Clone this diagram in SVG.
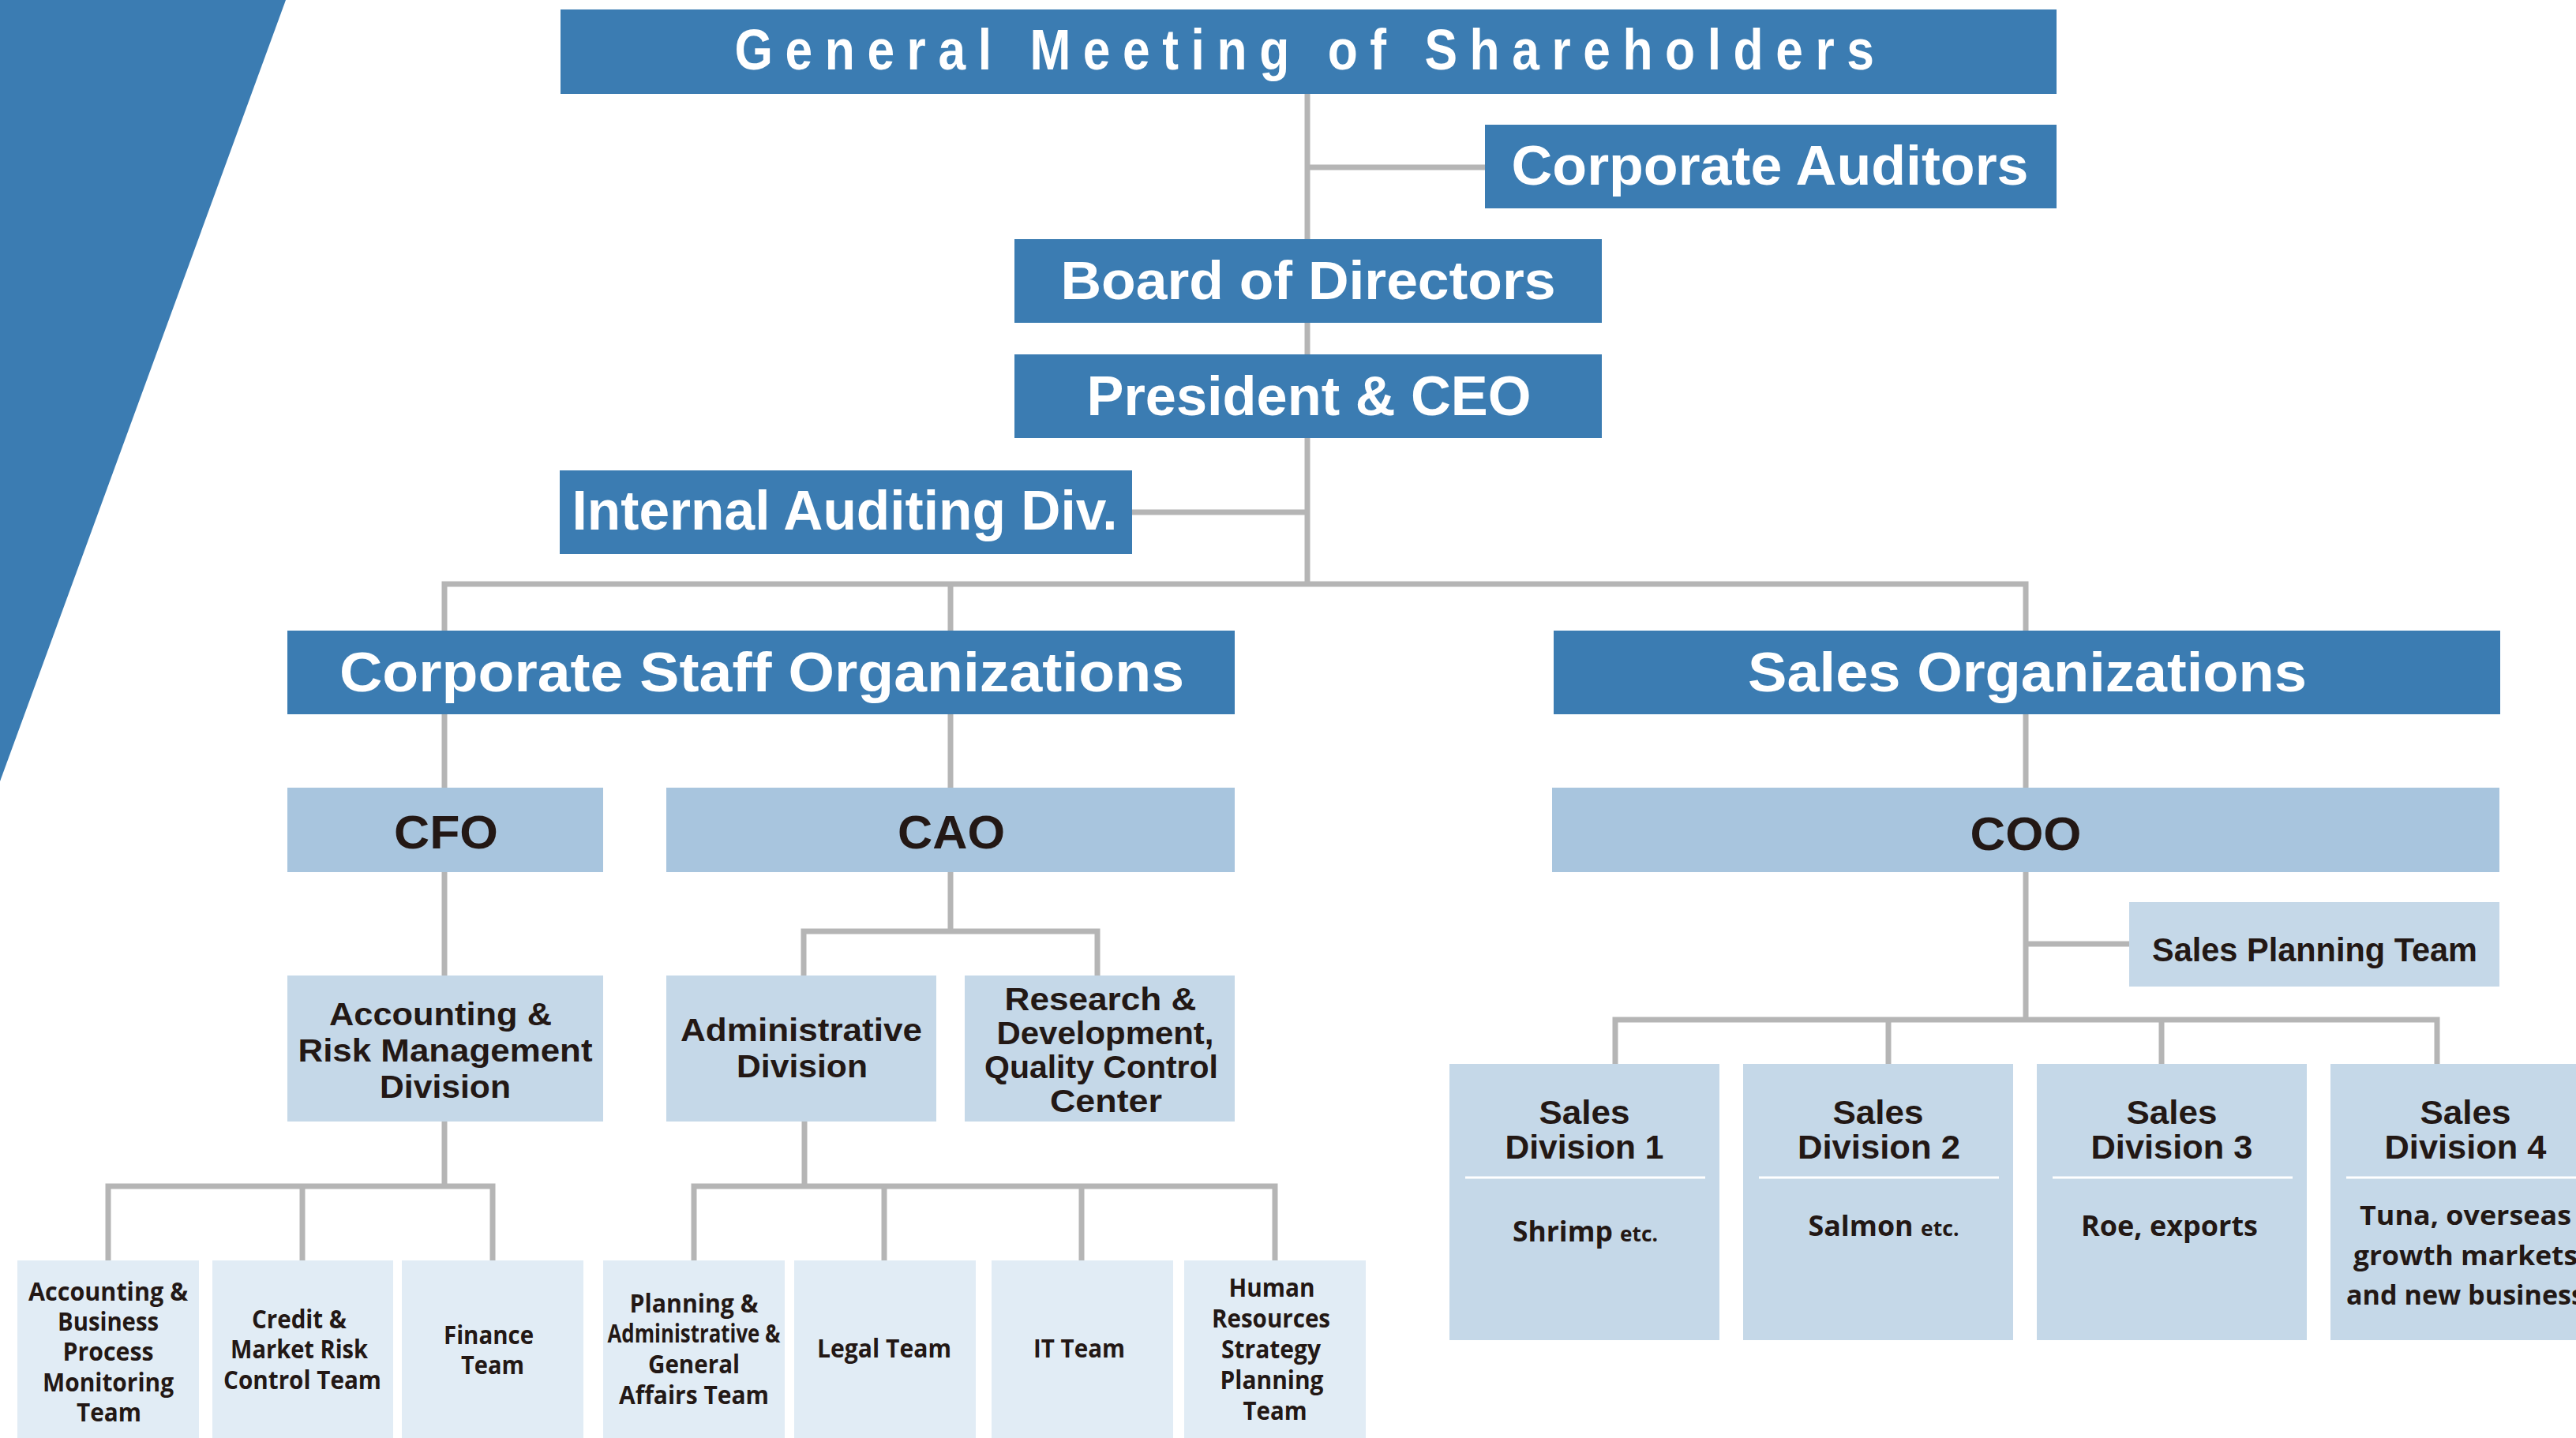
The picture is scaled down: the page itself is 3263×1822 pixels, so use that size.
<svg xmlns="http://www.w3.org/2000/svg" width="3263" height="1822" viewBox="0 0 3263 1822">
<style>
.dk{fill:#3b7cb2}.lb{fill:#a8c5de}.mb{fill:#c5d8e8}.vl{fill:#e1ecf5}
.ln{fill:none;stroke:#b5b5b5;stroke-width:7;stroke-linejoin:miter}
.tw{font-family:"Liberation Sans",Arial,sans-serif;font-weight:700;fill:#ffffff;text-anchor:middle}
.tb{font-family:"Liberation Sans",Arial,sans-serif;font-weight:700;fill:#231815;text-anchor:middle}
.to{font-family:"Open Sans","Liberation Sans",sans-serif;font-weight:700;fill:#231815;text-anchor:middle}
</style>
<rect width="3263" height="1822" fill="#ffffff"/>
<polygon points="0,0 362,0 0,990" class="dk"/>
<g id="connectors">
<path class="ln" d="M1656,119 V740"/>
<path class="ln" d="M1656,212 H1881"/>
<path class="ln" d="M1434,649 H1656"/>
<path class="ln" d="M563,799 V740 H2566 V799"/>
<path class="ln" d="M1204,740 V799"/>
<path class="ln" d="M563,905 V1236"/>
<path class="ln" d="M1204,905 V998"/>
<path class="ln" d="M1204,1105 V1180"/>
<path class="ln" d="M1018,1236 V1180 H1390 V1236"/>
<path class="ln" d="M563,1421 V1503"/>
<path class="ln" d="M137,1597 V1503 H624 V1597"/>
<path class="ln" d="M383,1503 V1597"/>
<path class="ln" d="M1019,1421 V1503"/>
<path class="ln" d="M879,1597 V1503 H1615 V1597"/>
<path class="ln" d="M1120,1503 V1597"/>
<path class="ln" d="M1370,1503 V1597"/>
<path class="ln" d="M2566,905 V998"/>
<path class="ln" d="M2566,1105 V1292"/>
<path class="ln" d="M2566,1196 H2697"/>
<path class="ln" d="M2046,1348 V1292 H3087 V1348"/>
<path class="ln" d="M2392,1292 V1348"/>
<path class="ln" d="M2738,1292 V1348"/>
</g>
<g id="gms"><rect x="710" y="12" width="1895" height="107" class="dk"/>
<text x="1660" y="88" class="tw" font-size="72" letter-spacing="18" textLength="1459" lengthAdjust="spacingAndGlyphs">General Meeting of Shareholders</text></g>
<g id="auditors"><rect x="1881" y="158" width="724" height="106" class="dk"/>
<text x="2242" y="234" class="tw" font-size="71" textLength="655" lengthAdjust="spacingAndGlyphs">Corporate Auditors</text></g>
<g id="board"><rect x="1285" y="303" width="744" height="106" class="dk"/>
<text x="1657" y="379" class="tw" font-size="69" textLength="627" lengthAdjust="spacingAndGlyphs">Board of Directors</text></g>
<g id="president"><rect x="1285" y="449" width="744" height="106" class="dk"/>
<text x="1658" y="526" class="tw" font-size="70" textLength="563" lengthAdjust="spacingAndGlyphs">President &amp; CEO</text></g>
<g id="internal"><rect x="709" y="596" width="725" height="106" class="dk"/>
<text x="1070" y="671" class="tw" font-size="70" textLength="691" lengthAdjust="spacingAndGlyphs">Internal Auditing Div.</text></g>
<g id="corpstaff"><rect x="364" y="799" width="1200" height="106" class="dk"/>
<text x="965" y="876" class="tw" font-size="70" textLength="1070" lengthAdjust="spacingAndGlyphs">Corporate Staff Organizations</text></g>
<g id="salesorg"><rect x="1968" y="799" width="1199" height="106" class="dk"/>
<text x="2568" y="876" class="tw" font-size="70" textLength="708" lengthAdjust="spacingAndGlyphs">Sales Organizations</text></g>
<g id="cfo"><rect x="364" y="998" width="400" height="107" class="lb"/>
<text x="565" y="1075" class="tb" font-size="59" textLength="132" lengthAdjust="spacingAndGlyphs">CFO</text></g>
<g id="cao"><rect x="844" y="998" width="720" height="107" class="lb"/>
<text x="1205" y="1075" class="tb" font-size="59" textLength="136" lengthAdjust="spacingAndGlyphs">CAO</text></g>
<g id="coo"><rect x="1966" y="998" width="1200" height="107" class="lb"/>
<text x="2566" y="1077" class="tb" font-size="60" textLength="141" lengthAdjust="spacingAndGlyphs">COO</text></g>
<g id="accrisk"><rect x="364" y="1236" width="400" height="185" class="mb"/>
<text x="558" y="1299" class="tb" font-size="40" textLength="282" lengthAdjust="spacingAndGlyphs">Accounting &amp;</text>
<text x="564" y="1345" class="tb" font-size="40" textLength="373" lengthAdjust="spacingAndGlyphs">Risk Management</text>
<text x="564" y="1391" class="tb" font-size="40" textLength="166" lengthAdjust="spacingAndGlyphs">Division</text></g>
<g id="admin"><rect x="844" y="1236" width="342" height="185" class="mb"/>
<text x="1015" y="1319" class="tb" font-size="40" textLength="306" lengthAdjust="spacingAndGlyphs">Administrative</text>
<text x="1016" y="1365" class="tb" font-size="40" textLength="166" lengthAdjust="spacingAndGlyphs">Division</text></g>
<g id="rnd"><rect x="1222" y="1236" width="342" height="185" class="mb"/>
<text x="1394" y="1280" class="tb" font-size="40" textLength="243" lengthAdjust="spacingAndGlyphs">Research &amp;</text>
<text x="1400" y="1323" class="tb" font-size="40" textLength="275" lengthAdjust="spacingAndGlyphs">Development,</text>
<text x="1395" y="1366" class="tb" font-size="40" textLength="296" lengthAdjust="spacingAndGlyphs">Quality Control</text>
<text x="1401" y="1409" class="tb" font-size="40" textLength="142" lengthAdjust="spacingAndGlyphs">Center</text></g>
<g id="salesplan"><rect x="2697" y="1143" width="469" height="107" class="mb"/>
<text x="2932" y="1218" class="tb" font-size="43" textLength="412" lengthAdjust="spacingAndGlyphs">Sales Planning Team</text></g>
<g id="sd1"><rect x="1836" y="1348" width="342" height="350" class="mb"/>
<text x="2007" y="1424" class="tb" font-size="43" textLength="115" lengthAdjust="spacingAndGlyphs">Sales</text>
<text x="2007" y="1468" class="tb" font-size="43" textLength="201" lengthAdjust="spacingAndGlyphs">Division 1</text>
<line x1="1856" y1="1492" x2="2160" y2="1492" stroke="#ffffff" stroke-width="3"/>
<text x="2008" y="1573" class="to" font-size="35" textLength="184" lengthAdjust="spacingAndGlyphs">Shrimp <tspan font-size="26">etc.</tspan></text></g>
<g id="sd2"><rect x="2208" y="1348" width="342" height="350" class="mb"/>
<text x="2379" y="1424" class="tb" font-size="43" textLength="115" lengthAdjust="spacingAndGlyphs">Sales</text>
<text x="2380" y="1468" class="tb" font-size="43" textLength="206" lengthAdjust="spacingAndGlyphs">Division 2</text>
<line x1="2228" y1="1492" x2="2532" y2="1492" stroke="#ffffff" stroke-width="3"/>
<text x="2386" y="1566" class="to" font-size="35" textLength="191" lengthAdjust="spacingAndGlyphs">Salmon <tspan font-size="26">etc.</tspan></text></g>
<g id="sd3"><rect x="2580" y="1348" width="342" height="350" class="mb"/>
<text x="2751" y="1424" class="tb" font-size="43" textLength="115" lengthAdjust="spacingAndGlyphs">Sales</text>
<text x="2751" y="1468" class="tb" font-size="43" textLength="205" lengthAdjust="spacingAndGlyphs">Division 3</text>
<line x1="2600" y1="1492" x2="2904" y2="1492" stroke="#ffffff" stroke-width="3"/>
<text x="2748" y="1566" class="to" font-size="35" textLength="224" lengthAdjust="spacingAndGlyphs">Roe, exports</text></g>
<g id="sd4"><rect x="2952" y="1348" width="342" height="350" class="mb"/>
<text x="3123" y="1424" class="tb" font-size="43" textLength="115" lengthAdjust="spacingAndGlyphs">Sales</text>
<text x="3123" y="1468" class="tb" font-size="43" textLength="205" lengthAdjust="spacingAndGlyphs">Division 4</text>
<line x1="2972" y1="1492" x2="3276" y2="1492" stroke="#ffffff" stroke-width="3"/>
<text x="3123" y="1552" class="to" font-size="34" textLength="268" lengthAdjust="spacingAndGlyphs">Tuna, overseas</text>
<text x="3123" y="1603" class="to" font-size="34" textLength="284" lengthAdjust="spacingAndGlyphs">growth markets</text>
<text x="3123" y="1653" class="to" font-size="34" textLength="302" lengthAdjust="spacingAndGlyphs">and new business</text></g>
<g id="t-accbpm"><rect x="22" y="1597" width="230" height="225" class="vl"/>
<text x="137" y="1648" class="to" font-size="32" textLength="202" lengthAdjust="spacingAndGlyphs">Accounting &amp;</text>
<text x="137" y="1686" class="to" font-size="32" textLength="128" lengthAdjust="spacingAndGlyphs">Business</text>
<text x="137" y="1724" class="to" font-size="32" textLength="115" lengthAdjust="spacingAndGlyphs">Process</text>
<text x="137" y="1763" class="to" font-size="32" textLength="166" lengthAdjust="spacingAndGlyphs">Monitoring</text>
<text x="138" y="1801" class="to" font-size="32" textLength="82" lengthAdjust="spacingAndGlyphs">Team</text></g>
<g id="t-credit"><rect x="269" y="1597" width="229" height="225" class="vl"/>
<text x="379" y="1683" class="to" font-size="32" textLength="120" lengthAdjust="spacingAndGlyphs">Credit &amp;</text>
<text x="379" y="1721" class="to" font-size="32" textLength="174" lengthAdjust="spacingAndGlyphs">Market Risk</text>
<text x="383" y="1760" class="to" font-size="32" textLength="200" lengthAdjust="spacingAndGlyphs">Control Team</text></g>
<g id="t-finance"><rect x="509" y="1597" width="230" height="225" class="vl"/>
<text x="619" y="1703" class="to" font-size="32" textLength="114" lengthAdjust="spacingAndGlyphs">Finance</text>
<text x="624" y="1741" class="to" font-size="32" textLength="80" lengthAdjust="spacingAndGlyphs">Team</text></g>
<g id="t-planning"><rect x="764" y="1597" width="230" height="225" class="vl"/>
<text x="879" y="1663" class="to" font-size="32" textLength="163" lengthAdjust="spacingAndGlyphs">Planning &amp;</text>
<text x="879" y="1701" class="to" font-size="32" textLength="219" lengthAdjust="spacingAndGlyphs">Administrative &amp;</text>
<text x="879" y="1740" class="to" font-size="32" textLength="116" lengthAdjust="spacingAndGlyphs">General</text>
<text x="879" y="1779" class="to" font-size="32" textLength="190" lengthAdjust="spacingAndGlyphs">Affairs Team</text></g>
<g id="t-legal"><rect x="1006" y="1597" width="230" height="225" class="vl"/>
<text x="1120" y="1720" class="to" font-size="32" textLength="170" lengthAdjust="spacingAndGlyphs">Legal Team</text></g>
<g id="t-it"><rect x="1256" y="1597" width="230" height="225" class="vl"/>
<text x="1367" y="1720" class="to" font-size="32" textLength="116" lengthAdjust="spacingAndGlyphs">IT Team</text></g>
<g id="t-hr"><rect x="1500" y="1597" width="230" height="225" class="vl"/>
<text x="1611" y="1643" class="to" font-size="32" textLength="109" lengthAdjust="spacingAndGlyphs">Human</text>
<text x="1610" y="1682" class="to" font-size="32" textLength="150" lengthAdjust="spacingAndGlyphs">Resources</text>
<text x="1610" y="1721" class="to" font-size="32" textLength="126" lengthAdjust="spacingAndGlyphs">Strategy</text>
<text x="1611" y="1760" class="to" font-size="32" textLength="131" lengthAdjust="spacingAndGlyphs">Planning</text>
<text x="1615" y="1799" class="to" font-size="32" textLength="81" lengthAdjust="spacingAndGlyphs">Team</text></g>
</svg>
